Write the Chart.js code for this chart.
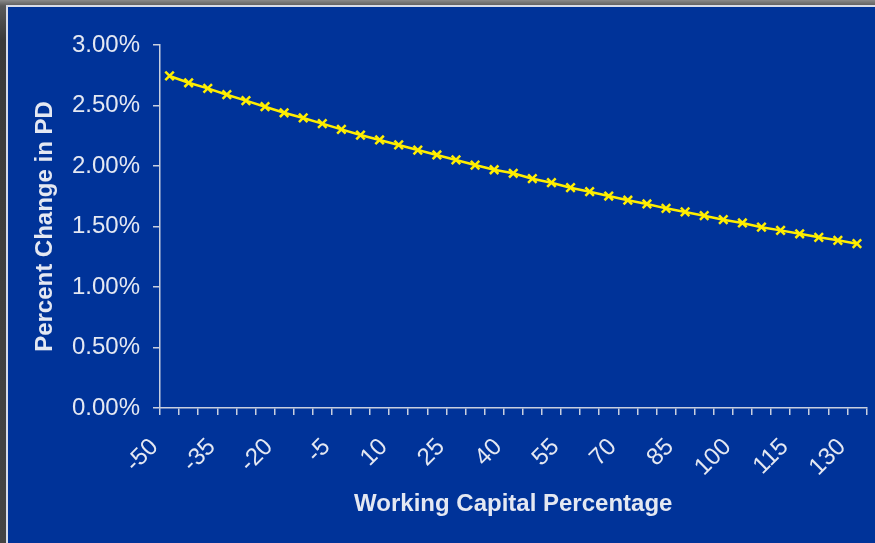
<!DOCTYPE html>
<html>
<head>
<meta charset="utf-8">
<script src="https://cdn.jsdelivr.net/npm/chart.js@4/dist/chart.umd.min.js"></script>
<style>
  html, body { margin: 0; padding: 0; }
  body {
    width: 875px; height: 543px; overflow: hidden; position: relative;
    background: linear-gradient(180deg, #8a8a8a 0px, #5a5a5a 6px, #3a3a3a 40px, #444 100%);
  }
  #panel {
    position: absolute; left: 6px; top: 5px; right: -4px; bottom: -4px;
    background: #003399;
    border: 2px solid #d8dce8;
  }
  #wrap { position: absolute; left: 0; top: 0; width: 875px; height: 543px; }
</style>
</head>
<body>
<div id="panel"></div>
<div id="wrap"><canvas id="myChart" width="875" height="543"></canvas></div>
<script>
// working capital percentage (x categories)
const categories = [];
for (let v = -50; v <= 130; v += 5) categories.push(String(v));

// percent change in PD (in %)
const pdChange = [
    2.744, 2.688, 2.642, 2.589, 2.540, 2.490, 2.440, 2.397, 2.350, 2.303,
    2.256, 2.215, 2.174, 2.132, 2.091, 2.050, 2.008, 1.969, 1.940, 1.895,
    1.862, 1.821, 1.788, 1.752, 1.717, 1.686, 1.650, 1.620, 1.589, 1.556,
    1.529, 1.494, 1.468, 1.440, 1.411, 1.386, 1.358
];

// only every third category gets a label
const labelEvery = 3;

const axisColor = '#c8cfdf';
const textColor = '#e4e8f2';
const fontFamily = '"Liberation Sans", Arial, sans-serif';

const ctx = document.getElementById('myChart').getContext('2d');
const myChart = new Chart(ctx, {
    type: 'line',
    data: {
        labels: categories,
        datasets: [{
            label: 'Percent Change in PD',
            data: pdChange,
            borderColor: '#ffee00',
            backgroundColor: '#ffee00',
            borderWidth: 2.5,
            pointStyle: 'crossRot',
            pointRadius: 6,
            pointBorderWidth: 2.5,
            pointBorderColor: '#ffee00',
            tension: 0
        }]
    },
    options: {
        responsive: false,
        animation: false,
        layout: { padding: { left: 0, top: 45, right: 8, bottom: 0 } },
        plugins: {
            legend: { display: false },
            tooltip: { enabled: false }
        },
        scales: {
            x: {
                offset: true,
                afterFit: function(scale) {
                    scale.height = 135;
                    scale.paddingLeft = 0;
                    scale.paddingRight = 0;
                },
                grid: {
                    offset: true,
                    drawOnChartArea: false,
                    drawTicks: true,
                    tickLength: 7,
                    color: axisColor,
                    lineWidth: 1.5
                },
                border: { display: true, color: axisColor, width: 1.5 },
                ticks: {
                    autoSkip: false,
                    maxRotation: 45,
                    minRotation: 45,
                    padding: 18,
                    labelOffset: -15,
                    color: textColor,
                    font: { family: fontFamily, size: 24 },
                    callback: function(value, index) {
                        return index % labelEvery === 0 ? categories[index] : '';
                    }
                },
                title: {
                    display: true,
                    text: 'Working Capital Percentage',
                    color: textColor,
                    font: { family: fontFamily, size: 24, weight: 'bold' },
                    padding: { top: 0, bottom: 24 }
                }
            },
            y: {
                min: 0,
                max: 3,
                afterFit: function(scale) {
                    scale.width = 160;
                    scale.paddingTop = 0;
                    scale.paddingBottom = 0;
                },
                grid: {
                    drawOnChartArea: false,
                    drawTicks: true,
                    tickLength: 7,
                    color: axisColor,
                    lineWidth: 1.5
                },
                border: { display: true, color: axisColor, width: 1.5 },
                ticks: {
                    stepSize: 0.5,
                    padding: 13,
                    color: textColor,
                    font: { family: fontFamily, size: 24 },
                    callback: function(value) { return value.toFixed(2) + '%'; }
                },
                title: {
                    display: true,
                    text: 'Percent Change in PD',
                    color: textColor,
                    font: { family: fontFamily, size: 24, weight: 'bold' },
                    padding: { top: 31, bottom: 0 }
                }
            }
        }
    }
});
</script>
</body>
</html>
